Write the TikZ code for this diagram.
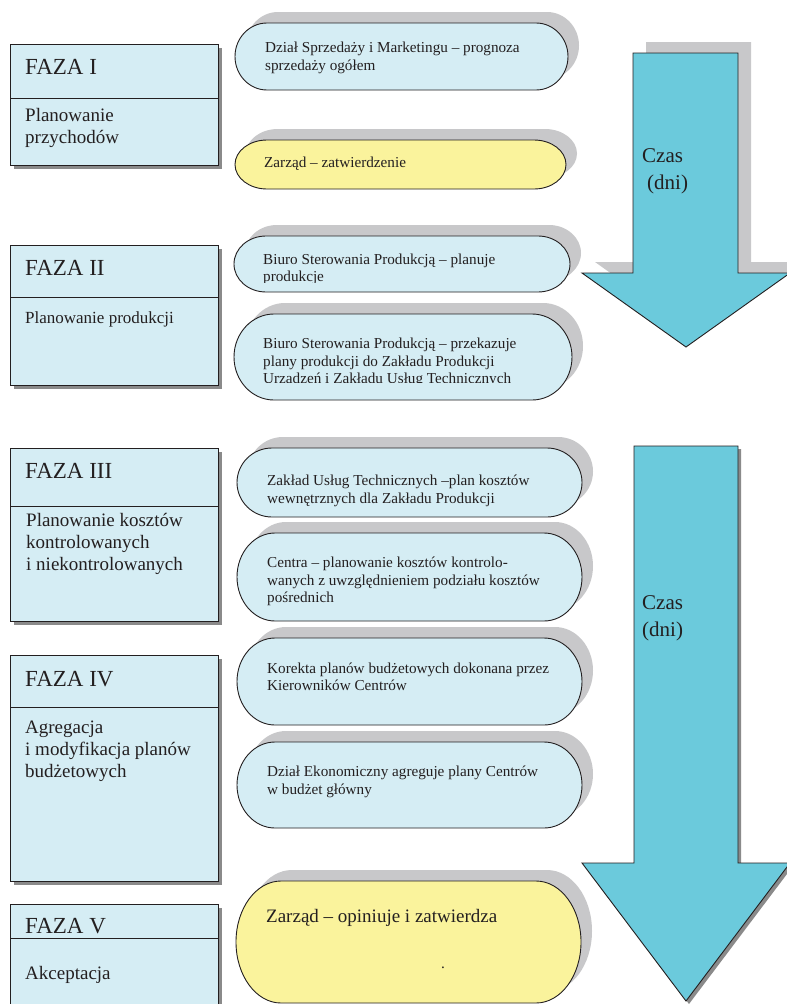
\documentclass[tikz,border=0pt]{standalone}
\usepackage{fontspec}
\setmainfont{Liberation Serif}

\definecolor{boxfill}{HTML}{D5EDF4}
\definecolor{pillyellow}{HTML}{FAF39C}
\definecolor{arrowfill}{HTML}{6BCADC}
\definecolor{softshadow}{HTML}{C8C8CA}
\definecolor{hardshadow}{HTML}{8A8A8A}
\definecolor{ink}{HTML}{231F20}

\newcommand\pilltext{\fontsize{15.2}{17.5}\selectfont}
\newcommand\phasetitle{\fontsize{23}{27}\selectfont}
\newcommand\phasebody{\fontsize{19}{22}\selectfont}
\newcommand\phasesmall{\fontsize{17}{20}\selectfont}
\newcommand\timetext{\fontsize{21}{26}\selectfont}

% phase box: x1, y1, x2, y2, divider y
\newcommand\phasebox[5]{%
  \fill[hardshadow] (#1+4,#2+4) rectangle (#3+4,#4+4);
  \draw[outline, fill=boxfill] (#1,#2) rectangle (#3,#4);
  \draw[outline] (#1,#5) -- (#3,#5);
}
% pill with elliptic ends and a raised soft shadow: x1, y1, x2, y2, end radius, fill
\newcommand\pill[6]{%
  \fill[softshadow] (#1+11+#5,#2-11) -- (#3+11-#5,#2-11)
    arc[start angle=-90, end angle=90, x radius=#5, y radius={(#4-#2)/2}]
    -- (#1+11+#5,#4-11)
    arc[start angle=90, end angle=270, x radius=#5, y radius={(#4-#2)/2}] -- cycle;
  \draw[outline, fill=#6] (#1+#5,#2) -- (#3-#5,#2)
    arc[start angle=-90, end angle=90, x radius=#5, y radius={(#4-#2)/2}]
    -- (#1+#5,#4)
    arc[start angle=90, end angle=270, x radius=#5, y radius={(#4-#2)/2}] -- cycle;
}

\begin{document}
\begin{tikzpicture}[x=1pt, y=-1pt,
  outline/.style={draw=ink, line width=0.9pt, line join=miter},
  label/.style={inner sep=0pt, text=ink, align=left},
  pilllabel/.style={label, font=\pilltext, anchor=west},
  titlelabel/.style={label, font=\phasetitle, anchor=base west},
  bodylabel/.style={label, font=\phasebody, anchor=west}]

\useasboundingbox[fill=white] (0,0) rectangle (787,1004);

% ---- time arrows ----
\fill[softshadow, shift={(13,-11)}] (633,53) -- (738,53) -- (738,273) -- (790,273)
  -- (686,347) -- (582,273) -- (633,273) -- cycle;
\draw[outline, fill=arrowfill] (633,53) -- (738,53) -- (738,273) -- (790,273)
  -- (686,347) -- (582,273) -- (633,273) -- cycle;

\fill[hardshadow, shift={(3,3)}] (634,446) -- (738,446) -- (738,863) -- (790,863)
  -- (686,1001) -- (582,863) -- (634,863) -- cycle;
\draw[outline, fill=arrowfill] (634,446) -- (738,446) -- (738,863) -- (790,863)
  -- (686,1001) -- (582,863) -- (634,863) -- cycle;

\node[label, font=\timetext, anchor=base west] (czas1) at (642,162) {Czas};
\node[label, font=\timetext, anchor=base west] (dni1) at (647,189) {(dni)};
\node[label, font=\timetext, anchor=base west] (czas2) at (642,609) {Czas};
\node[label, font=\timetext, anchor=base west] (dni2) at (642,636) {(dni)};

% ---- phase boxes ----
\phasebox{10}{44}{218}{165}{98}
\phasebox{10}{245}{218}{385}{297}
\phasebox{10}{448}{218}{621}{506}
\phasebox{10}{655}{218}{881}{707}
\phasebox{10}{904}{218}{1030}{938}

\node[titlelabel] (f1) at (25,74) {FAZA I};
\node[bodylabel] (f1b) at (25,128) {Planowanie\\przychodów};
\node[titlelabel] (f2) at (25,275) {FAZA II};
\node[label, font=\phasesmall, anchor=base west] (f2b) at (25,323) {Planowanie produkcji};
\node[titlelabel] (f3) at (25,478) {FAZA III};
\node[bodylabel] (f3b) at (26,544) {Planowanie kosztów\\kontrolowanych\\i niekontrolowanych};
\node[titlelabel] (f4) at (25,686) {FAZA IV};
\node[bodylabel] (f4b) at (25,751) {Agregacja\\i modyfikacja planów\\budżetowych};
\node[titlelabel] (f5) at (25,933) {FAZA V};
\node[label, font=\phasebody, anchor=base west] (f5b) at (25,979) {Akceptacja};

% ---- activity pills ----
\pill{235}{23}{568}{90}{32}{boxfill}
\pill{235}{140}{566}{189}{32}{pillyellow}
\pill{234}{236}{570}{292}{32}{boxfill}
\pill{234}{314}{572}{400}{40}{boxfill}
\pill{237}{448}{582}{517}{35}{boxfill}
\pill{237}{533}{582}{621}{38}{boxfill}
\pill{237}{638}{582}{725}{38}{boxfill}
\pill{237}{742}{582}{828}{38}{boxfill}
\pill{236}{881}{581}{1003}{45}{pillyellow}

\node[pilllabel] (p1) at (265,58) {Dział Sprzedaży i Marketingu – prognoza\\sprzedaży ogółem};
\node[label, font=\pilltext, anchor=base west] (p2) at (264,167) {Zarząd – zatwierdzenie};
% the text frames of these two cut off the bottom of their last line
\begin{scope}
  \clip (240,240) rectangle (560,282.5);
  \node[pilllabel] (p3) at (263,269.5) {Biuro Sterowania Produkcją – planuje\\produkcje};
\end{scope}
\begin{scope}
  \clip (240,320) rectangle (560,382.5);
  \node[pilllabel] (p4) at (263,362.5) {Biuro Sterowania Produkcją – przekazuje\\plany produkcji do Zakładu Produkcji\\Urządzeń i Zakładu Usług Technicznych};
\end{scope}
\node[pilllabel] (p5) at (267,491) {Zakład Usług Technicznych –plan kosztów\\wewnętrznych dla Zakładu Produkcji};
\node[pilllabel] (p6) at (267,581.5) {Centra – planowanie kosztów kontrolo-\\wanych z uwzględnieniem podziału kosztów\\pośrednich};
\node[pilllabel] (p7) at (267,677) {Korekta planów budżetowych dokonana przez\\Kierowników Centrów};
\node[pilllabel] (p8) at (267,782) {Dział Ekonomiczny agreguje plany Centrów\\w budżet główny};
\node[label, font=\phasebody, anchor=base west] (p9) at (266,922) {Zarząd – opiniuje i zatwierdza};
\node[label, font=\pilltext, anchor=base] (p9dot) at (443,968) {.};

\end{tikzpicture}
\end{document}
